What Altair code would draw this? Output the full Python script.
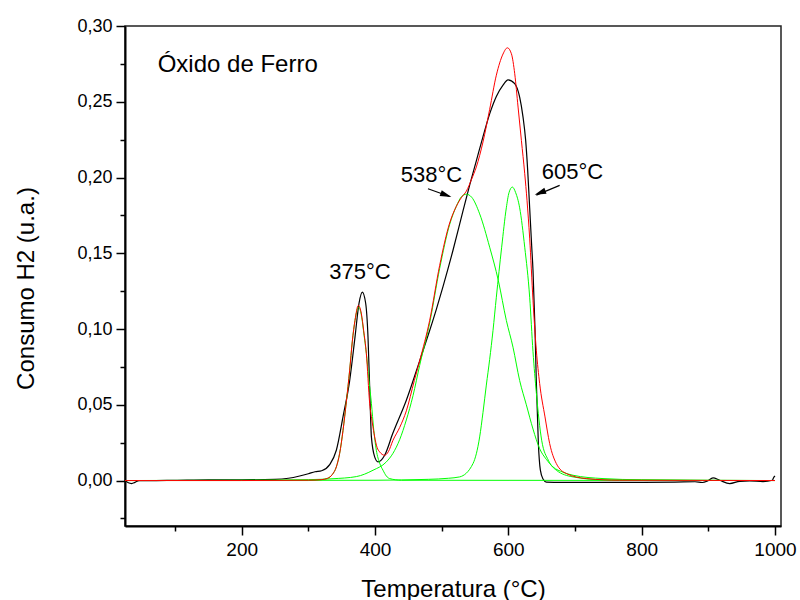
import altair as alt
import pandas as pd

# ---- experimental TPR curve (black) ----
exp_t = [25, 30, 35, 40, 46, 60, 100, 150, 200, 250, 270, 287, 300, 310, 320, 332, 342, 352, 362, 370,
         376, 381, 386, 389.5, 392, 394.6, 399.5, 404.5, 414.5, 426.6, 447, 467, 482, 492, 502, 517, 532,
         542, 552, 562, 572, 582, 592, 599.5, 609.6, 617, 622, 626, 629, 632, 635, 637, 640, 642, 645,
         648, 652, 657, 680, 750, 850, 880, 891, 898, 907, 917, 932, 947, 962, 982, 996, 998, 1000]
exp_h2 = [0.0005, -0.0015, -0.002, -0.0012, 0.0, 0.0, 0.0002, 0.0005, 0.0005, 0.0008, 0.0015, 0.003,
          0.0045, 0.0058, 0.0065, 0.0105, 0.020, 0.042, 0.066, 0.0947, 0.117, 0.1244, 0.117, 0.0947,
          0.0617, 0.0288, 0.0156, 0.0123, 0.0167, 0.031, 0.053, 0.079, 0.099, 0.113, 0.128, 0.152, 0.178,
          0.195, 0.211, 0.227, 0.242, 0.2535, 0.2610, 0.2645, 0.262, 0.253, 0.240, 0.2245, 0.205, 0.180,
          0.155, 0.1387, 0.100, 0.065, 0.025, 0.007, 0.001, -0.001, -0.0012, -0.0012, -0.001, -0.0008,
          -0.0013, -0.0005, 0.0017, 0.0002, -0.002, -0.0005, -0.0002, -0.0007, 0.0002, 0.002, 0.003]

# ---- fitted sum (red) ----
fit_t = [25, 200, 300, 320, 329, 336, 342, 347, 352, 357, 362, 366, 370, 375, 379.6, 383, 387, 392, 396,
         399.5, 403, 407, 414.5, 420, 427, 437, 447, 459, 467, 482, 497, 512, 522, 530, 537, 545, 552, 562,
         572, 582, 592, 598.6, 604.6, 609.6, 614.6, 619.6, 624.6, 628, 632, 637, 642, 647, 655, 662, 672,
         687, 717, 767, 1000]
fit_h2 = [0, 0, 0.0002, 0.0006, 0.0015, 0.004, 0.009, 0.018, 0.033, 0.052, 0.0728, 0.092, 0.1057, 0.1156,
          0.110, 0.099, 0.084, 0.051, 0.038, 0.0288, 0.022, 0.0189, 0.0167, 0.019, 0.0266, 0.035, 0.046,
          0.066, 0.079, 0.1057, 0.142, 0.170, 0.181, 0.187, 0.191, 0.199, 0.207, 0.2235, 0.245, 0.2675,
          0.2815, 0.2856, 0.2817, 0.2685, 0.2465, 0.2245, 0.2025, 0.185, 0.160, 0.119, 0.086, 0.064, 0.042,
          0.0244, 0.0112, 0.0046, 0.0013, 0.0002, 0]

# ---- fitted components (green) ----
c1_t = [25, 300, 320, 329, 336, 342, 347, 352, 357, 362, 366, 370, 375.6, 380, 383, 387, 391, 394.6, 398,
        402, 407, 412, 417, 422, 440, 1000]
c1_h2 = [0, 0, 0.0006, 0.0015, 0.004, 0.009, 0.018, 0.033, 0.052, 0.0728, 0.092, 0.1057, 0.1145, 0.108,
         0.098, 0.084, 0.066, 0.051, 0.034, 0.020, 0.0115, 0.0068, 0.003, 0.0013, 0.0002, 0]

c2_t = [25, 200, 300, 337, 372, 397, 417, 427, 437, 447, 457, 467, 482, 497, 512, 522, 530, 537, 545, 557,
        572, 585, 597, 607, 617, 627, 637, 647, 657, 667, 682, 697, 742, 800, 1000]
c2_h2 = [0, 0.0002, 0.0006, 0.0012, 0.0026, 0.0068, 0.0123, 0.018, 0.027, 0.040, 0.056, 0.076, 0.104,
         0.140, 0.169, 0.181, 0.1875, 0.189, 0.187, 0.176, 0.154, 0.132, 0.1057, 0.088, 0.066, 0.050,
         0.034, 0.021, 0.014, 0.009, 0.0055, 0.0035, 0.0013, 0.0005, 0]

c3_t = [25, 400, 480, 510, 527, 547, 557, 562, 567, 572, 577, 582, 590, 597, 601, 606, 611, 617, 624.6,
        632, 637, 642, 646, 650, 660, 672, 697, 742, 1000]
c3_h2 = [0, 0.0002, 0.0008, 0.0015, 0.0024, 0.0112, 0.0288, 0.045, 0.063, 0.080, 0.099, 0.121, 0.154,
         0.180, 0.190, 0.1937, 0.190, 0.180, 0.154, 0.121, 0.085, 0.058, 0.040, 0.0266, 0.0134, 0.0068,
         0.0024, 0.0005, 0]

# ---- annotations ----
title_text = ["Óxido de Ferro"]
title_x = [74]
title_y = [0.2694]

peak_text = ["375°C", "538°C", "605°C"]
peak_x = [377.5, 484.6, 696.2]
peak_y = [0.1332, 0.197, 0.1992]

arrow_id = ["a538", "a538", "a605", "a605"]
arrow_x = [479.5, 512.0, 677.0, 642.0]
arrow_y = [0.1926, 0.1875, 0.1948, 0.1884]
head_x = [514.6, 639.6]
head_y = [0.1871, 0.1887]
head_angle = [20, 160]

x_ticks = [100, 200, 300, 400, 500, 600, 700, 800, 900, 1000]
y_ticks = [-0.025, 0.0, 0.025, 0.05, 0.075, 0.10, 0.125, 0.15, 0.175, 0.20, 0.225, 0.25, 0.275, 0.30]

FONT = "Liberation Sans"

xscale = alt.Scale(domain=[25, 1009], nice=False, zero=False)
yscale = alt.Scale(domain=[-0.03, 0.30], nice=False, zero=False)

xaxis = alt.Axis(
    values=x_ticks,
    labelExpr="datum.value % 200 === 0 ? datum.label : ''",
    format="d",
    tickSize={"condition": {"test": "datum.value % 200 === 0", "value": 9}, "value": 5},
    tickWidth=1.5, tickColor="black",
    domainColor="black", domainWidth=2,
    labelFont=FONT, labelFontSize=19, labelColor="black", labelPadding=5,
    labelFlush=False, labelOverlap=False,
    title="Temperatura (°C)", titleFont=FONT, titleFontSize=24, titleFontWeight="normal",
    titleColor="black", titlePadding=18, grid=False,
)
yaxis = alt.Axis(
    values=y_ticks,
    labelExpr="(round(datum.value*1000) % 50 === 0) ? replace(format(datum.value, '.2f'), '.', ',') : ''",
    tickSize={"condition": {"test": "round(datum.value*1000) % 50 === 0", "value": 9}, "value": 5},
    tickWidth=1.5, tickColor="black",
    domainColor="black", domainWidth=2,
    labelFont=FONT, labelFontSize=18, labelColor="black", labelPadding=4,
    labelFlush=False, labelOverlap=False,
    title="Consumo H2 (u.a.)", titleFont=FONT, titleFontSize=24, titleFontWeight="normal",
    titleColor="black", titlePadding=38, titleY=262, grid=False,
)


def X(field):
    return alt.X(field, type="quantitative", scale=xscale, axis=xaxis, title="Temperatura (°C)")


def Y(field):
    return alt.Y(field, type="quantitative", scale=yscale, axis=yaxis, title="Consumo H2 (u.a.)")


def curve(ts, vs, color, width):
    df = pd.DataFrame({"t": ts, "h2": vs})
    return alt.Chart(df).mark_line(color=color, strokeWidth=width, interpolate="monotone",
                                   clip=True).encode(x=X("t"), y=Y("h2"))


exp_line = curve(exp_t, exp_h2, "#000000", 1.2)
g1 = curve(c1_t, c1_h2, "#00ff00", 1.0)
g2 = curve(c2_t, c2_h2, "#00ff00", 1.0)
g3 = curve(c3_t, c3_h2, "#00ff00", 1.0)
fit_line = curve(fit_t, fit_h2, "#ff0000", 1.0)

title_df = pd.DataFrame({"x": title_x, "y": title_y, "txt": title_text})
title_layer = alt.Chart(title_df).mark_text(
    align="left", baseline="alphabetic", font=FONT, fontSize=24, color="black"
).encode(x=X("x"), y=Y("y"), text="txt:N")

peak_df = pd.DataFrame({"x": peak_x, "y": peak_y, "txt": peak_text})
peak_layer = alt.Chart(peak_df).mark_text(
    align="center", baseline="alphabetic", font=FONT, fontSize=22, color="black"
).encode(x=X("x"), y=Y("y"), text="txt:N")

arrow_df = pd.DataFrame({"id": arrow_id, "x": arrow_x, "y": arrow_y})
arrow_lines = alt.Chart(arrow_df).mark_line(color="black", strokeWidth=1.2).encode(
    x=X("x"), y=Y("y"), detail="id:N"
)

head_df = pd.DataFrame({"x": head_x, "y": head_y, "ang": head_angle})
arrow_heads = alt.Chart(head_df).mark_point(
    shape="M0,0L-2,-0.55L-2,0.55Z", filled=True, color="black", opacity=1, size=130, strokeWidth=0
).encode(x=X("x"), y=Y("y"), angle=alt.Angle("ang:Q", scale=None))

chart = alt.layer(
    exp_line, g1, g2, g3, fit_line, title_layer, peak_layer, arrow_lines, arrow_heads
).properties(
    width=656, height=500,
    padding={"left": 125, "top": 26, "right": 19, "bottom": 74},
    autosize=alt.AutoSizeParams(type="none"),
    background="white",
).configure_view(
    stroke="#222222", strokeWidth=1.5
)

chart.save("out.html", embed_options={"renderer": "svg", "actions": False})
